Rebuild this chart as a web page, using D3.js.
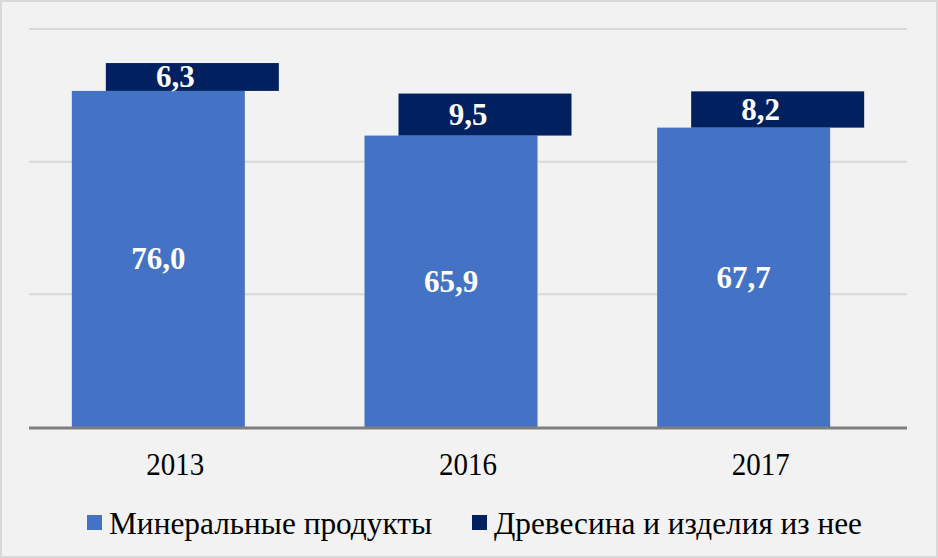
<!DOCTYPE html>
<html><head><meta charset="utf-8">
<script src="https://cdn.jsdelivr.net/npm/d3@7"></script>
</head><body style="margin:0">
<script>
const categories = ["2013", "2016", "2017"];
const mineral = [76.0, 65.9, 67.7];
const wood = [6.3, 9.5, 8.2];
const seriesNames = ["Минеральные продукты", "Древесина и изделия из нее"];
const yTicks = [0, 30, 60, 90];

const W = 938, H = 558;
const FONT = "'Liberation Serif'";
const svg = d3.select("body").append("svg").attr("width", W).attr("height", H).style("display", "block");
svg.append("rect").attr("x", 1).attr("y", 1).attr("width", W - 2).attr("height", H - 2)
  .attr("fill", "#f2f2f2").attr("stroke", "#d9d9d9").attr("stroke-width", 2);

const x = d3.scaleBand().domain(categories).range([29, 907]);
const y = d3.scaleLinear().domain([0, 90]).range([427, 29]);
const bw = 173, off = 17;
const fmt = v => v.toFixed(1).replace(".", ",");

svg.append("g").selectAll("line").data(yTicks.filter(t => t > 0)).join("line")
  .attr("x1", 29).attr("x2", 907).attr("y1", d => y(d)).attr("y2", d => y(d))
  .attr("stroke", "#d9d9d9").attr("stroke-width", 2);

const cx = c => x(c) + x.bandwidth() / 2;

svg.append("g").selectAll("rect").data(categories).join("rect")
  .attr("x", (c) => cx(c) - off - bw / 2).attr("width", bw)
  .attr("y", (c, i) => y(mineral[i])).attr("height", (c, i) => y(0) - y(mineral[i]))
  .attr("fill", "#4472c4");
svg.append("g").selectAll("rect").data(categories).join("rect")
  .attr("x", (c) => cx(c) + off - bw / 2).attr("width", bw)
  .attr("y", (c, i) => y(mineral[i] + wood[i])).attr("height", (c, i) => y(mineral[i]) - y(mineral[i] + wood[i]))
  .attr("fill", "#002060");

svg.append("line").attr("x1", 29).attr("x2", 907).attr("y1", y(0) + 1).attr("y2", y(0) + 1)
  .attr("stroke", "#7f7f7f").attr("stroke-width", 3);

svg.append("g").selectAll("text").data(categories).join("text")
  .attr("x", c => cx(c) - off).attr("y", (c, i) => (y(mineral[i]) + y(0)) / 2 + 10.5)
  .attr("text-anchor", "middle").attr("fill", "#fff")
  .style("font-family", FONT).style("font-weight", "700").attr("font-size", 31)
  .text((c, i) => fmt(mineral[i]));
svg.append("g").selectAll("text").data(categories).join("text")
  .attr("x", c => cx(c)).attr("y", (c, i) => (y(mineral[i]) + y(mineral[i] + wood[i])) / 2 + 10.5)
  .attr("text-anchor", "middle").attr("fill", "#fff")
  .style("font-family", FONT).style("font-weight", "700").attr("font-size", 31)
  .text((c, i) => fmt(wood[i]));

svg.append("g").selectAll("text").data(categories).join("text")
  .attr("x", c => cx(c)).attr("y", 475).attr("text-anchor", "middle")
  .attr("fill", "#000").style("font-family", FONT).attr("font-size", 31)
  .attr("textLength", 58).attr("lengthAdjust", "spacingAndGlyphs")
  .text(c => c);

const legend = svg.append("g");
const lx = [87, 472];
const lw = [323, 368];
const colors = ["#4472c4", "#002060"];
seriesNames.forEach((n, i) => {
  legend.append("rect").attr("x", lx[i]).attr("y", 515).attr("width", 15).attr("height", 15).attr("fill", colors[i]);
  legend.append("text").attr("x", lx[i] + 22).attr("y", 534)
    .style("font-family", FONT).attr("font-size", 32).attr("fill", "#000")
    .attr("textLength", lw[i]).attr("lengthAdjust", "spacingAndGlyphs").text(n);
});
</script>
</body></html>
